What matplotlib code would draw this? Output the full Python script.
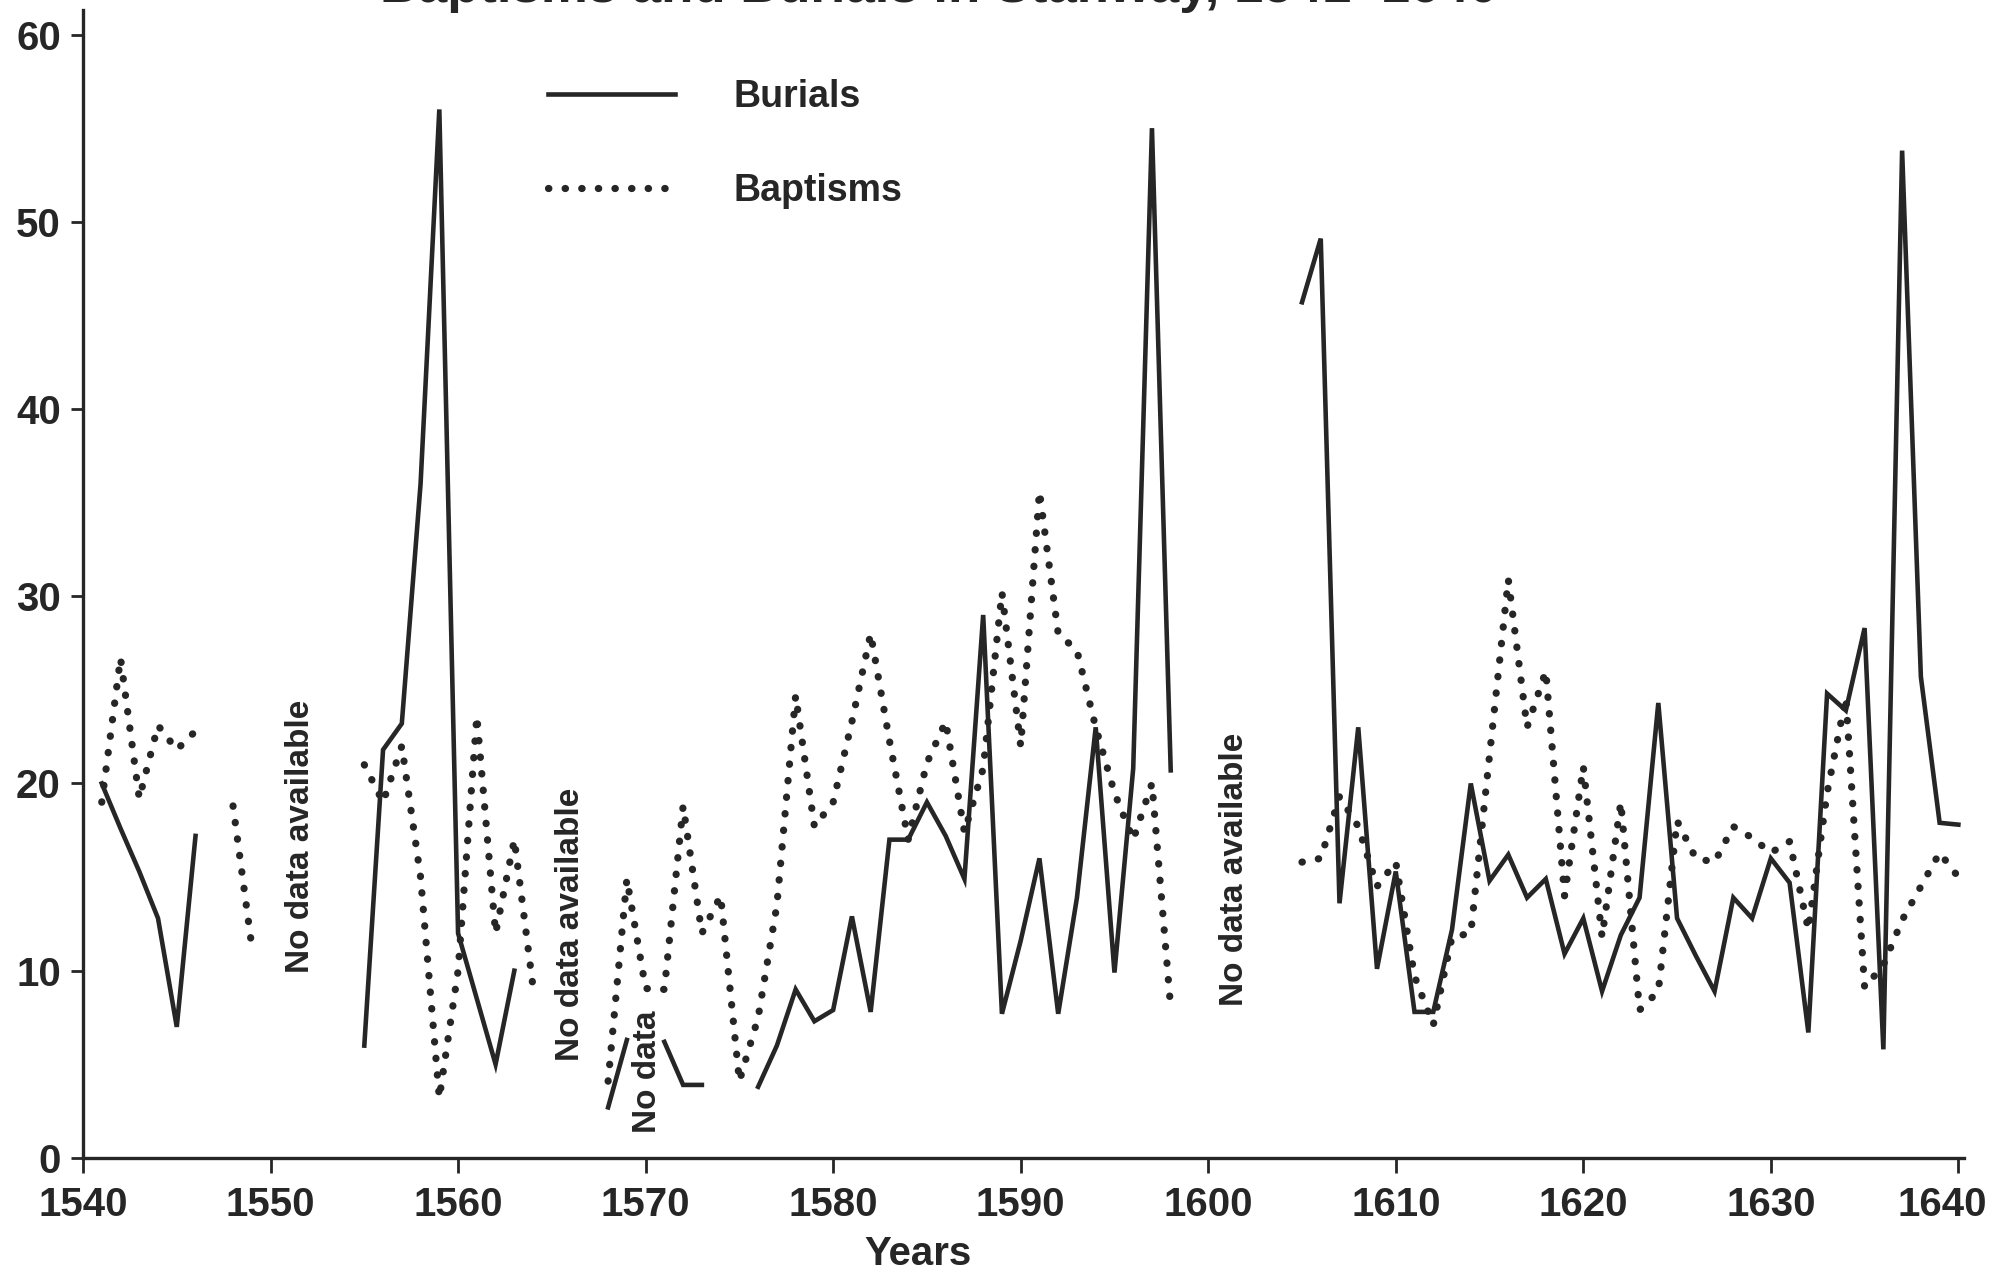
import numpy as np
import matplotlib
matplotlib.use("Agg")
import matplotlib.pyplot as plt
import matplotlib.transforms as mtransforms
from matplotlib.lines import Line2D

# ---------------- data ----------------
years = list(range(1541, 1641))

N = None
burials = [
    20, 17.6, 15.3, 12.8, 7, 17.2,                 # 1541-1546
    N, N, N, N, N, N, N, N,                        # 1547-1554
    6, 21.8, 23.2, 36, 56, 12, 8.5, 5, 10,         # 1555-1563
    N, N, N, N,                                    # 1564-1567
    2.7, 6.3, N, 6.2, 3.9, 3.9,                    # 1568-1573
    N, N,                                          # 1574-1575
    3.8, 6.0, 9.0, 7.3, 7.9, 12.9, 7.8, 17.0, 17.0, 19.0,   # 1576-1585
    17.2, 14.9, 29.0, 7.7, 11.6, 16.0, 7.7, 13.9, 23.0, 9.9, # 1586-1595
    20.8, 55.0, 20.7,                              # 1596-1598
    N, N, N, N, N, N,                              # 1599-1604
    45.7, 49.1, 13.6, 23.0, 10.1, 15.3, 7.8, 7.8, 12.2, 20.0,  # 1605-1614
    14.8, 16.2, 13.9, 14.9, 10.9, 12.8, 8.9, 11.9, 13.9, 24.3, # 1615-1624
    12.8, 10.8, 8.9, 13.9, 12.8, 16.0, 14.7, 6.7, 24.8, 23.9,  # 1625-1634
    28.3, 5.8, 53.8, 25.7, 17.9, 17.8,             # 1635-1640
]

baptisms = [
    19.0, 26.7, 19.2, 23.1, 21.8, 22.8,            # 1541-1546
    N, 18.8, 11.3,                                 # 1547-1549
    N, N, N, N, N,                                 # 1550-1554
    21.0, 19.0, 22.0, 15.0, 3.2, 10.0, 23.6, 12.0, 17.0, 9.1,  # 1555-1564
    N, N, N,                                       # 1565-1567
    4.1, 14.9, 9.05, 9.0, 18.8, 12.0, 14.0, 4.1, 7.5, 13.5,    # 1568-1577
    24.7, 17.7, 19.0, 23.3, 28.0, 22.3, 17.0, 21.1, 23.3, 17.4, # 1578-1587
    20.8, 30.2, 22.0, 35.6, 28.0, 27.1, 23.0, 19.5, 17.0, 20.0, # 1588-1597
    8.0,                                           # 1598
    N, N, N, N, N, N,                              # 1599-1604
    15.8, 16.0, 19.3, 17.7, 14.5, 15.8, 9.7, 7.1, 11.8, 12.0,  # 1605-1614
    21.5, 30.9, 23.0, 26.0, 14.0, 20.9, 11.8, 19.0, 7.9, 8.9,  # 1615-1624
    18.0, 16.0, 15.8, 17.7, 17.1, 16.3, 16.9, 12.2, 19.5, 24.6, # 1625-1634
    9.1, 10.3, 12.7, 14.5, 16.3, 15.0,             # 1635-1640
]

x_ticks = list(range(1540, 1641, 10))
y_ticks = list(range(0, 61, 10))
series_labels = ["Burials", "Baptisms"]
title_text = "Baptisms and Burials in Stanway, 1541\u20131640"

no_data_notes = [
    ("No data available", 1551.6, 17.2),
    ("No data available", 1566.0, 12.5),
    ("No data available", 1601.4, 15.4),
    ("No data", 1570.1, 4.6),
]

# ---------------- drawing ----------------
ink = "#262626"
bold_font = ["Liberation Sans", "DejaVu Sans"]
narrow_font = ["Liberation Sans Narrow", "Liberation Sans", "DejaVu Sans"]

def arr(v):
    return np.array([np.nan if a is None else a for a in v], dtype=float)

fig = plt.figure(figsize=(20, 12.74), dpi=100)
ax = fig.add_axes([0.0415, 0.0911, 0.9405, 0.9009])

dot_style = dict(linestyle=(0, (0.05, 2.25)), linewidth=5.2,
                 dash_capstyle="round", color=ink)

ax.plot(years, arr(baptisms), zorder=2, **dot_style)
ax.plot(years, arr(burials), color=ink, linewidth=3.3,
        solid_joinstyle="miter", zorder=3)

ax.set_xlim(1540, 1640.3)
ax.set_ylim(0, 61.3)
ax.set_xticks(x_ticks)
ax.set_yticks(y_ticks)

for s in ("top", "right"):
    ax.spines[s].set_visible(False)
for s in ("left", "bottom"):
    ax.spines[s].set_linewidth(2.4)
    ax.spines[s].set_color(ink)

ax.tick_params(axis="x", direction="out", length=11, width=2.0,
               color=ink, pad=9, labelsize=29, labelcolor=ink)
ax.tick_params(axis="y", direction="out", length=9, width=2.0,
               color=ink, pad=7, labelsize=29, labelcolor=ink)
for lab in ax.get_xticklabels() + ax.get_yticklabels():
    lab.set_fontfamily(bold_font)
    lab.set_fontweight("bold")

# nudge the last x tick label inward so it stays on the canvas
last = ax.get_xticklabels()[-1]
last.set_transform(last.get_transform() +
                   mtransforms.ScaledTranslation(-16 / 100, 0, fig.dpi_scale_trans))

ax.set_xlabel("Years", fontsize=29, fontweight="bold", color=ink,
              family=bold_font)
ax.xaxis.set_label_coords(0.444, -0.067)

for txt, xv, yv in no_data_notes:
    ax.text(xv, yv, txt, rotation=90, ha="center", va="center",
            fontsize=24, fontweight="bold", color=ink, family=narrow_font,
            zorder=4)

handles = [Line2D([], [], color=ink, linewidth=3.3),
           Line2D([], [], **dot_style)]
leg = ax.legend(handles, series_labels, loc="upper left",
                bbox_to_anchor=(0.247, 0.94), frameon=False,
                handlelength=3.4, handletextpad=1.55, labelspacing=1.55,
                borderaxespad=0, borderpad=0,
                prop={"family": bold_font, "weight": "bold", "size": 27})
for t in leg.get_texts():
    t.set_color(ink)

fig.text(0.19, 1 - 2.0 / 1274, title_text, ha="left", va="baseline",
         fontsize=38, fontweight="bold", color=ink, family=bold_font)

fig.savefig("out.png", dpi=100, facecolor="white")
